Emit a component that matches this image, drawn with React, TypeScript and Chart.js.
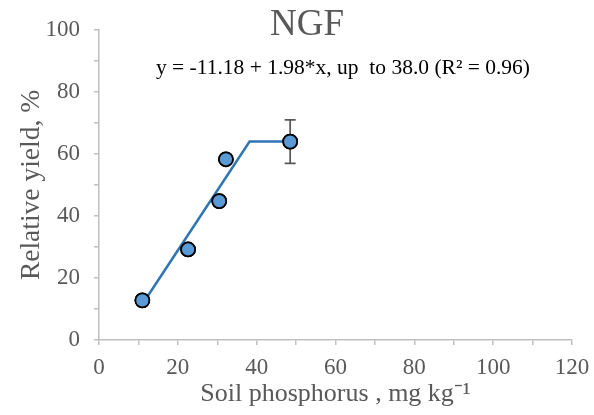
import React, { useEffect, useRef } from 'react';
import { Chart, registerables } from 'chart.js';
Chart.register(...registerables);

const soilP = [11.0, 22.6, 30.5, 32.2, 48.5];
const relYield = [12.8, 29.2, 44.8, 58.3, 64.0];
const yieldErr = [0, 0, 0, 0, 7.0];
const fitX = [11.5, 38.2, 48.5];
const fitY = [12.5, 64.0, 64.0];
const titleText = 'NGF';
const equationText = 'y = -11.18 + 1.98*x, up  to 38.0 (R\u00B2 = 0.96)';
const xTitle = 'Soil phosphorus , mg kg\u207B\u00B9';
const yTitle = 'Relative yield, %';

const SERIF = '"Liberation Serif", "Times New Roman", serif';

const errorBarPlugin = {
  id: 'errorBars',
  afterDatasetsDraw(chart: any) {
    const meta = chart.getDatasetMeta(1);
    const ys = chart.scales.y;
    const ctx = chart.ctx;
    ctx.save();
    ctx.strokeStyle = '#595959';
    ctx.lineWidth = 1.75;
    meta.data.forEach((pt: any, i: number) => {
      const e = yieldErr[i];
      if (!e) return;
      const top = ys.getPixelForValue(relYield[i] + e);
      const bot = ys.getPixelForValue(relYield[i] - e);
      ctx.beginPath();
      ctx.moveTo(pt.x, top);
      ctx.lineTo(pt.x, bot);
      ctx.moveTo(pt.x - 5.5, top);
      ctx.lineTo(pt.x + 5.5, top);
      ctx.moveTo(pt.x - 5.5, bot);
      ctx.lineTo(pt.x + 5.5, bot);
      ctx.stroke();
    });
    ctx.restore();
    meta.controller.draw();
  },
};

const textPlugin = {
  id: 'texts',
  afterDraw(chart: any) {
    const ctx = chart.ctx;
    ctx.save();
    ctx.textAlign = 'center';
    ctx.textBaseline = 'alphabetic';
    ctx.fillStyle = '#595959';
    ctx.font = `37px ${SERIF}`;
    ctx.fillText(titleText, 307, 35);
    ctx.fillStyle = '#000000';
    ctx.font = `21.5px ${SERIF}`;
    ctx.fillText(equationText, 343, 74);
    ctx.restore();
  },
};

export default function App() {
  const ref = useRef<HTMLCanvasElement | null>(null);
  useEffect(() => {
    document.body.style.margin = '0';
    const chart = new Chart(ref.current as HTMLCanvasElement, {
      type: 'scatter',
      data: {
        datasets: [
          {
            type: 'line',
            data: fitX.map((x, i) => ({ x, y: fitY[i] })),
            borderColor: '#2e75b6',
            borderWidth: 2.5,
            pointRadius: 0,
            fill: false,
            order: 2,
          } as any,
          {
            data: soilP.map((x, i) => ({ x, y: relYield[i] })),
            backgroundColor: '#5b9bd5',
            borderColor: '#000000',
            borderWidth: 1.75,
            pointRadius: 7,
            order: 1,
          },
        ],
      },
      options: {
        animation: false,
        responsive: false,
        layout: { padding: { top: 30, right: 22, left: 18, bottom: 8 } },
        plugins: { legend: { display: false }, tooltip: { enabled: false }, title: { display: false } },
        scales: {
          x: {
            type: 'linear',
            min: 0,
            max: 120,
            afterFit: (s: any) => { s.height = 67; s.paddingRight = 0; s.paddingLeft = 0; },
            border: { color: '#bfbfbf', width: 1.5 },
            grid: { drawOnChartArea: false, color: '#bfbfbf', tickLength: 5, lineWidth: 1.5 },
            ticks: {
              stepSize: 10,
              autoSkip: false,
              maxRotation: 0,
              color: '#595959',
              font: { family: SERIF, size: 23 },
              padding: 9,
              callback: (v: any) => (v % 20 === 0 ? String(v) : ''),
            },
            title: { display: true, text: xTitle, color: '#595959', font: { family: SERIF, size: 26, lineHeight: 1 }, padding: { top: 0, bottom: 0 } },
          },
          y: {
            type: 'linear',
            min: 0,
            max: 100,
            afterFit: (s: any) => { s.width = 81; },
            border: { color: '#bfbfbf', width: 1.5 },
            grid: { drawOnChartArea: false, color: '#bfbfbf', tickLength: 5, lineWidth: 1.5 },
            ticks: {
              stepSize: 10,
              autoSkip: false,
              color: '#595959',
              font: { family: SERIF, size: 23 },
              padding: 14,
              callback: (v: any) => (v % 20 === 0 ? String(v) : ''),
            },
            title: { display: true, text: yTitle, color: '#595959', font: { family: SERIF, size: 27.5, lineHeight: 1 }, padding: { top: 0, bottom: 0 } },
          },
        },
      },
      plugins: [errorBarPlugin, textPlugin],
    });
    return () => chart.destroy();
  }, []);
  return (
    <div style={{ position: 'absolute', left: 0, top: 0, width: 594, height: 415, background: '#fff' }}>
      <canvas ref={ref} width={594} height={415} />
    </div>
  );
}
